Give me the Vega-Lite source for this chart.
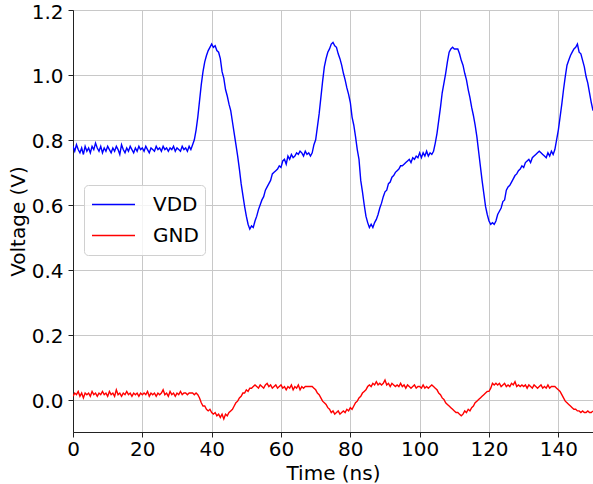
{
  "$schema": "https://vega.github.io/schema/vega-lite/v6.json",
  "width": 520,
  "height": 422,
  "autosize": {"type": "none"},
  "padding": {"left": 73, "top": 10, "right": 0, "bottom": 52},
  "background": "white",
  "config": {
    "font": "DejaVu Sans",
    "view": {"stroke": "#222222", "strokeWidth": 1},
    "axis": {
      "labelFont": "DejaVu Sans",
      "titleFont": "DejaVu Sans",
      "labelFontSize": 20,
      "titleFontSize": 20,
      "labelColor": "#000000",
      "titleColor": "#000000",
      "titleFontWeight": "normal",
      "domainColor": "#222222",
      "tickColor": "#222222",
      "tickSize": 5,
      "tickWidth": 1,
      "gridColor": "#c8c8c8",
      "gridWidth": 1
    },
    "legend": {
      "labelFont": "DejaVu Sans"
    }
  },
  "data": {
    "values": [
      {"t":0,"VDD":0.78,"GND":0.01},{"t":0.5,"VDD":0.765,"GND":0.02},{"t":1,"VDD":0.785,"GND":0.015},{"t":1.5,"VDD":0.77,"GND":0.025},
      {"t":2,"VDD":0.76,"GND":0.01},{"t":2.5,"VDD":0.775,"GND":0.02},{"t":3,"VDD":0.755,"GND":0.005},{"t":3.5,"VDD":0.78,"GND":0.02},
      {"t":4,"VDD":0.765,"GND":0.015},{"t":4.5,"VDD":0.775,"GND":0.02},{"t":5,"VDD":0.76,"GND":0.01},{"t":5.5,"VDD":0.78,"GND":0.025},
      {"t":6,"VDD":0.77,"GND":0.015},{"t":6.5,"VDD":0.79,"GND":0.02},{"t":7,"VDD":0.775,"GND":0.01},{"t":7.5,"VDD":0.765,"GND":0.02},
      {"t":8,"VDD":0.78,"GND":0.015},{"t":8.5,"VDD":0.76,"GND":0.025},{"t":9,"VDD":0.775,"GND":0.015},{"t":9.5,"VDD":0.765,"GND":0.02},
      {"t":10,"VDD":0.78,"GND":0.01},{"t":10.5,"VDD":0.77,"GND":0.025},{"t":11,"VDD":0.76,"GND":0.015},{"t":11.5,"VDD":0.775,"GND":0.02},
      {"t":12,"VDD":0.765,"GND":0.01},{"t":12.5,"VDD":0.78,"GND":0.03},{"t":13,"VDD":0.77,"GND":0.015},{"t":13.5,"VDD":0.755,"GND":0.02},
      {"t":14,"VDD":0.785,"GND":0.01},{"t":14.5,"VDD":0.77,"GND":0.02},{"t":15,"VDD":0.76,"GND":0.015},{"t":15.5,"VDD":0.775,"GND":0.025},
      {"t":16,"VDD":0.765,"GND":0.015},{"t":16.5,"VDD":0.78,"GND":0.02},{"t":17,"VDD":0.77,"GND":0.01},{"t":17.5,"VDD":0.76,"GND":0.02},
      {"t":18,"VDD":0.775,"GND":0.015},{"t":18.5,"VDD":0.765,"GND":0.02},{"t":19,"VDD":0.78,"GND":0.01},{"t":19.5,"VDD":0.77,"GND":0.02},
      {"t":20,"VDD":0.775,"GND":0.015},{"t":20.5,"VDD":0.765,"GND":0.02},{"t":21,"VDD":0.78,"GND":0.015},{"t":21.5,"VDD":0.77,"GND":0.025},
      {"t":22,"VDD":0.76,"GND":0.01},{"t":22.5,"VDD":0.775,"GND":0.02},{"t":23,"VDD":0.77,"GND":0.015},{"t":23.5,"VDD":0.765,"GND":0.02},
      {"t":24,"VDD":0.78,"GND":0.01},{"t":24.5,"VDD":0.77,"GND":0.02},{"t":25,"VDD":0.775,"GND":0.015},{"t":25.5,"VDD":0.765,"GND":0.02},
      {"t":26,"VDD":0.78,"GND":0.03},{"t":26.5,"VDD":0.77,"GND":0.015},{"t":27,"VDD":0.775,"GND":0.02},{"t":27.5,"VDD":0.765,"GND":0.01},
      {"t":28,"VDD":0.775,"GND":0.025},{"t":28.5,"VDD":0.77,"GND":0.015},{"t":29,"VDD":0.78,"GND":0.02},{"t":29.5,"VDD":0.765,"GND":0.01},
      {"t":30,"VDD":0.775,"GND":0.02},{"t":30.5,"VDD":0.77,"GND":0.015},{"t":31,"VDD":0.765,"GND":0.025},{"t":31.5,"VDD":0.78,"GND":0.015},
      {"t":32,"VDD":0.77,"GND":0.02},{"t":32.5,"VDD":0.775,"GND":0.02},{"t":33,"VDD":0.765,"GND":0.015},{"t":33.5,"VDD":0.78,"GND":0.02},
      {"t":34,"VDD":0.77,"GND":0.02},{"t":34.5,"VDD":0.785,"GND":0.02},{"t":35,"VDD":0.8,"GND":0.015},{"t":35.5,"VDD":0.83,"GND":0.02},
      {"t":36,"VDD":0.87,"GND":0.015},{"t":36.5,"VDD":0.92,"GND":0.005},{"t":37,"VDD":0.97,"GND":-0.01},{"t":37.5,"VDD":1.01,"GND":-0.02},
      {"t":38,"VDD":1.04,"GND":-0.02},{"t":38.5,"VDD":1.06,"GND":-0.03},{"t":39,"VDD":1.075,"GND":-0.035},{"t":39.5,"VDD":1.085,"GND":-0.03},
      {"t":40,"VDD":1.095,"GND":-0.04},{"t":40.5,"VDD":1.085,"GND":-0.045},{"t":41,"VDD":1.09,"GND":-0.04},{"t":41.5,"VDD":1.075,"GND":-0.05},
      {"t":42,"VDD":1.07,"GND":-0.045},{"t":42.5,"VDD":1.05,"GND":-0.055},{"t":43,"VDD":1.01,"GND":-0.045},{"t":43.5,"VDD":0.99,"GND":-0.06},
      {"t":44,"VDD":0.955,"GND":-0.045},{"t":44.5,"VDD":0.935,"GND":-0.05},{"t":45,"VDD":0.91,"GND":-0.04},{"t":45.5,"VDD":0.89,"GND":-0.035},
      {"t":46,"VDD":0.855,"GND":-0.03},{"t":46.5,"VDD":0.82,"GND":-0.02},{"t":47,"VDD":0.785,"GND":-0.01},{"t":47.5,"VDD":0.75,"GND":-0.005},
      {"t":48,"VDD":0.71,"GND":0.005},{"t":48.5,"VDD":0.665,"GND":0.01},{"t":49,"VDD":0.63,"GND":0.02},{"t":49.5,"VDD":0.595,"GND":0.02},
      {"t":50,"VDD":0.565,"GND":0.03},{"t":50.5,"VDD":0.54,"GND":0.025},{"t":51,"VDD":0.525,"GND":0.035},{"t":51.5,"VDD":0.535,"GND":0.035},
      {"t":52,"VDD":0.53,"GND":0.04},{"t":52.5,"VDD":0.55,"GND":0.045},{"t":53,"VDD":0.565,"GND":0.04},{"t":53.5,"VDD":0.585,"GND":0.035},
      {"t":54,"VDD":0.6,"GND":0.045},{"t":54.5,"VDD":0.615,"GND":0.04},{"t":55,"VDD":0.625,"GND":0.035},{"t":55.5,"VDD":0.645,"GND":0.045},
      {"t":56,"VDD":0.655,"GND":0.05},{"t":56.5,"VDD":0.665,"GND":0.04},{"t":57,"VDD":0.675,"GND":0.045},{"t":57.5,"VDD":0.695,"GND":0.035},
      {"t":58,"VDD":0.7,"GND":0.04},{"t":58.5,"VDD":0.705,"GND":0.045},{"t":59,"VDD":0.71,"GND":0.035},{"t":59.5,"VDD":0.72,"GND":0.04},
      {"t":60,"VDD":0.715,"GND":0.045},{"t":60.5,"VDD":0.735,"GND":0.035},{"t":61,"VDD":0.74,"GND":0.04},{"t":61.5,"VDD":0.725,"GND":0.03},
      {"t":62,"VDD":0.75,"GND":0.04},{"t":62.5,"VDD":0.74,"GND":0.035},{"t":63,"VDD":0.755,"GND":0.045},{"t":63.5,"VDD":0.745,"GND":0.03},
      {"t":64,"VDD":0.75,"GND":0.04},{"t":64.5,"VDD":0.76,"GND":0.035},{"t":65,"VDD":0.755,"GND":0.045},{"t":65.5,"VDD":0.765,"GND":0.03},
      {"t":66,"VDD":0.76,"GND":0.04},{"t":66.5,"VDD":0.75,"GND":0.035},{"t":67,"VDD":0.765,"GND":0.04},{"t":67.5,"VDD":0.755,"GND":0.04},
      {"t":68,"VDD":0.76,"GND":0.04},{"t":68.5,"VDD":0.75,"GND":0.04},{"t":69,"VDD":0.76,"GND":0.04},{"t":69.5,"VDD":0.785,"GND":0.035},
      {"t":70,"VDD":0.8,"GND":0.03},{"t":70.5,"VDD":0.84,"GND":0.02},{"t":71,"VDD":0.88,"GND":0.015},{"t":71.5,"VDD":0.93,"GND":0.005},
      {"t":72,"VDD":0.98,"GND":-0.005},{"t":72.5,"VDD":1.025,"GND":-0.01},{"t":73,"VDD":1.05,"GND":-0.015},{"t":73.5,"VDD":1.07,"GND":-0.025},
      {"t":74,"VDD":1.08,"GND":-0.03},{"t":74.5,"VDD":1.095,"GND":-0.04},{"t":75,"VDD":1.1,"GND":-0.035},{"t":75.5,"VDD":1.09,"GND":-0.045},
      {"t":76,"VDD":1.085,"GND":-0.04},{"t":76.5,"VDD":1.065,"GND":-0.035},{"t":77,"VDD":1.05,"GND":-0.045},{"t":77.5,"VDD":1.03,"GND":-0.04},
      {"t":78,"VDD":1.005,"GND":-0.035},{"t":78.5,"VDD":0.985,"GND":-0.04},{"t":79,"VDD":0.96,"GND":-0.03},{"t":79.5,"VDD":0.94,"GND":-0.035},
      {"t":80,"VDD":0.915,"GND":-0.025},{"t":80.5,"VDD":0.87,"GND":-0.03},{"t":81,"VDD":0.845,"GND":-0.02},{"t":81.5,"VDD":0.81,"GND":-0.01},
      {"t":82,"VDD":0.77,"GND":-0.005},{"t":82.5,"VDD":0.74,"GND":0.005},{"t":83,"VDD":0.675,"GND":0.01},{"t":83.5,"VDD":0.64,"GND":0.02},
      {"t":84,"VDD":0.6,"GND":0.025},{"t":84.5,"VDD":0.565,"GND":0.03},{"t":85,"VDD":0.545,"GND":0.04},{"t":85.5,"VDD":0.53,"GND":0.045},
      {"t":86,"VDD":0.54,"GND":0.04},{"t":86.5,"VDD":0.53,"GND":0.05},{"t":87,"VDD":0.545,"GND":0.045},{"t":87.5,"VDD":0.555,"GND":0.055},
      {"t":88,"VDD":0.57,"GND":0.045},{"t":88.5,"VDD":0.59,"GND":0.05},{"t":89,"VDD":0.605,"GND":0.045},{"t":89.5,"VDD":0.625,"GND":0.05},
      {"t":90,"VDD":0.64,"GND":0.06},{"t":90.5,"VDD":0.645,"GND":0.045},{"t":91,"VDD":0.665,"GND":0.05},{"t":91.5,"VDD":0.67,"GND":0.04},
      {"t":92,"VDD":0.685,"GND":0.05},{"t":92.5,"VDD":0.69,"GND":0.045},{"t":93,"VDD":0.7,"GND":0.04},{"t":93.5,"VDD":0.705,"GND":0.045},
      {"t":94,"VDD":0.71,"GND":0.04},{"t":94.5,"VDD":0.72,"GND":0.05},{"t":95,"VDD":0.72,"GND":0.04},{"t":95.5,"VDD":0.725,"GND":0.045},
      {"t":96,"VDD":0.73,"GND":0.035},{"t":96.5,"VDD":0.735,"GND":0.045},{"t":97,"VDD":0.74,"GND":0.04},{"t":97.5,"VDD":0.73,"GND":0.035},
      {"t":98,"VDD":0.745,"GND":0.04},{"t":98.5,"VDD":0.74,"GND":0.045},{"t":99,"VDD":0.75,"GND":0.035},{"t":99.5,"VDD":0.745,"GND":0.04},
      {"t":100,"VDD":0.76,"GND":0.04},{"t":100.5,"VDD":0.745,"GND":0.035},{"t":101,"VDD":0.76,"GND":0.045},{"t":101.5,"VDD":0.75,"GND":0.035},
      {"t":102,"VDD":0.765,"GND":0.04},{"t":102.5,"VDD":0.75,"GND":0.035},{"t":103,"VDD":0.76,"GND":0.04},{"t":103.5,"VDD":0.755,"GND":0.045},
      {"t":104,"VDD":0.765,"GND":0.04},{"t":104.5,"VDD":0.79,"GND":0.035},{"t":105,"VDD":0.82,"GND":0.03},{"t":105.5,"VDD":0.86,"GND":0.02},
      {"t":106,"VDD":0.9,"GND":0.015},{"t":106.5,"VDD":0.945,"GND":0.005},{"t":107,"VDD":0.975,"GND":0},{"t":107.5,"VDD":1.005,"GND":-0.01},
      {"t":108,"VDD":1.04,"GND":-0.015},{"t":108.5,"VDD":1.07,"GND":-0.02},{"t":109,"VDD":1.08,"GND":-0.025},{"t":109.5,"VDD":1.085,"GND":-0.03},
      {"t":110,"VDD":1.08,"GND":-0.035},{"t":110.5,"VDD":1.08,"GND":-0.04},{"t":111,"VDD":1.08,"GND":-0.04},{"t":111.5,"VDD":1.065,"GND":-0.045},
      {"t":112,"VDD":1.045,"GND":-0.05},{"t":112.5,"VDD":1.03,"GND":-0.045},{"t":113,"VDD":1.005,"GND":-0.035},{"t":113.5,"VDD":0.985,"GND":-0.04},
      {"t":114,"VDD":0.955,"GND":-0.03},{"t":114.5,"VDD":0.93,"GND":-0.035},{"t":115,"VDD":0.9,"GND":-0.025},{"t":115.5,"VDD":0.875,"GND":-0.02},
      {"t":116,"VDD":0.845,"GND":-0.01},{"t":116.5,"VDD":0.81,"GND":-0.005},{"t":117,"VDD":0.765,"GND":0},{"t":117.5,"VDD":0.72,"GND":0.005},
      {"t":118,"VDD":0.675,"GND":0.01},{"t":118.5,"VDD":0.635,"GND":0.015},{"t":119,"VDD":0.595,"GND":0.02},{"t":119.5,"VDD":0.57,"GND":0.025},
      {"t":120,"VDD":0.55,"GND":0.025},{"t":120.5,"VDD":0.54,"GND":0.035},{"t":121,"VDD":0.545,"GND":0.05},{"t":121.5,"VDD":0.54,"GND":0.045},
      {"t":122,"VDD":0.55,"GND":0.05},{"t":122.5,"VDD":0.57,"GND":0.045},{"t":123,"VDD":0.58,"GND":0.05},{"t":123.5,"VDD":0.59,"GND":0.04},
      {"t":124,"VDD":0.61,"GND":0.045},{"t":124.5,"VDD":0.615,"GND":0.05},{"t":125,"VDD":0.645,"GND":0.04},{"t":125.5,"VDD":0.655,"GND":0.045},
      {"t":126,"VDD":0.66,"GND":0.04},{"t":126.5,"VDD":0.67,"GND":0.05},{"t":127,"VDD":0.68,"GND":0.045},{"t":127.5,"VDD":0.69,"GND":0.055},
      {"t":128,"VDD":0.695,"GND":0.04},{"t":128.5,"VDD":0.705,"GND":0.045},{"t":129,"VDD":0.71,"GND":0.04},{"t":129.5,"VDD":0.72,"GND":0.045},
      {"t":130,"VDD":0.715,"GND":0.04},{"t":130.5,"VDD":0.73,"GND":0.045},{"t":131,"VDD":0.735,"GND":0.035},{"t":131.5,"VDD":0.74,"GND":0.045},
      {"t":132,"VDD":0.73,"GND":0.04},{"t":132.5,"VDD":0.745,"GND":0.035},{"t":133,"VDD":0.75,"GND":0.045},{"t":133.5,"VDD":0.755,"GND":0.04},
      {"t":134,"VDD":0.76,"GND":0.035},{"t":134.5,"VDD":0.765,"GND":0.04},{"t":135,"VDD":0.76,"GND":0.045},{"t":135.5,"VDD":0.755,"GND":0.035},
      {"t":136,"VDD":0.75,"GND":0.04},{"t":136.5,"VDD":0.745,"GND":0.035},{"t":137,"VDD":0.76,"GND":0.045},{"t":137.5,"VDD":0.75,"GND":0.035},
      {"t":138,"VDD":0.765,"GND":0.04},{"t":138.5,"VDD":0.755,"GND":0.04},{"t":139,"VDD":0.77,"GND":0.04},{"t":139.5,"VDD":0.8,"GND":0.035},
      {"t":140,"VDD":0.83,"GND":0.03},{"t":140.5,"VDD":0.87,"GND":0.025},{"t":141,"VDD":0.91,"GND":0.015},{"t":141.5,"VDD":0.955,"GND":0.005},
      {"t":142,"VDD":0.995,"GND":-0.005},{"t":142.5,"VDD":1.03,"GND":-0.01},{"t":143,"VDD":1.045,"GND":-0.015},{"t":143.5,"VDD":1.06,"GND":-0.02},
      {"t":144,"VDD":1.07,"GND":-0.025},{"t":144.5,"VDD":1.08,"GND":-0.03},{"t":145,"VDD":1.085,"GND":-0.03},{"t":145.5,"VDD":1.095,"GND":-0.035},
      {"t":146,"VDD":1.07,"GND":-0.035},{"t":146.5,"VDD":1.065,"GND":-0.04},{"t":147,"VDD":1.045,"GND":-0.035},{"t":147.5,"VDD":1.025,"GND":-0.04},
      {"t":148,"VDD":0.995,"GND":-0.04},{"t":148.5,"VDD":0.975,"GND":-0.035},{"t":149,"VDD":0.945,"GND":-0.04},{"t":149.5,"VDD":0.915,"GND":-0.04},
      {"t":150,"VDD":0.89,"GND":-0.035}
    ]
  },
  "transform": [{"fold": ["VDD", "GND"], "as": ["series", "V"]}],
  "mark": {"type": "line", "strokeWidth": 1.4, "clip": true},
  "encoding": {
    "x": {
      "field": "t",
      "type": "quantitative",
      "scale": {"domain": [0, 150], "nice": false},
      "axis": {"title": "Time (ns)", "values": [0, 20, 40, 60, 80, 100, 120, 140], "labelPadding": 2, "titlePadding": 4, "labelFlush": false}
    },
    "y": {
      "field": "V",
      "type": "quantitative",
      "scale": {"domain": [-0.1, 1.2], "nice": false, "zero": false},
      "axis": {"title": "Voltage (V)", "values": [0, 0.2, 0.4, 0.6, 0.8, 1.0, 1.2], "format": ".1f", "labelPadding": 5, "labelOffset": 2, "labelFlush": false, "titlePadding": 3}
    },
    "color": {
      "field": "series",
      "type": "nominal",
      "scale": {"domain": ["VDD", "GND"], "range": ["#0000ff", "#ff0000"]},
      "legend": {
        "title": null,
        "orient": "none",
        "legendX": 11,
        "legendY": 175,
        "symbolType": "stroke",
        "symbolSize": 1849,
        "symbolStrokeWidth": 1.5,
        "symbolOffset": 1,
        "labelFontSize": 20,
        "labelColor": "#000000",
        "labelOffset": 17,
        "padding": 6,
        "rowPadding": 4,
        "clipHeight": 27,
        "fillColor": "rgba(255,255,255,0.8)",
        "strokeColor": "#d0d0d0",
        "cornerRadius": 4
      }
    }
  }
}
